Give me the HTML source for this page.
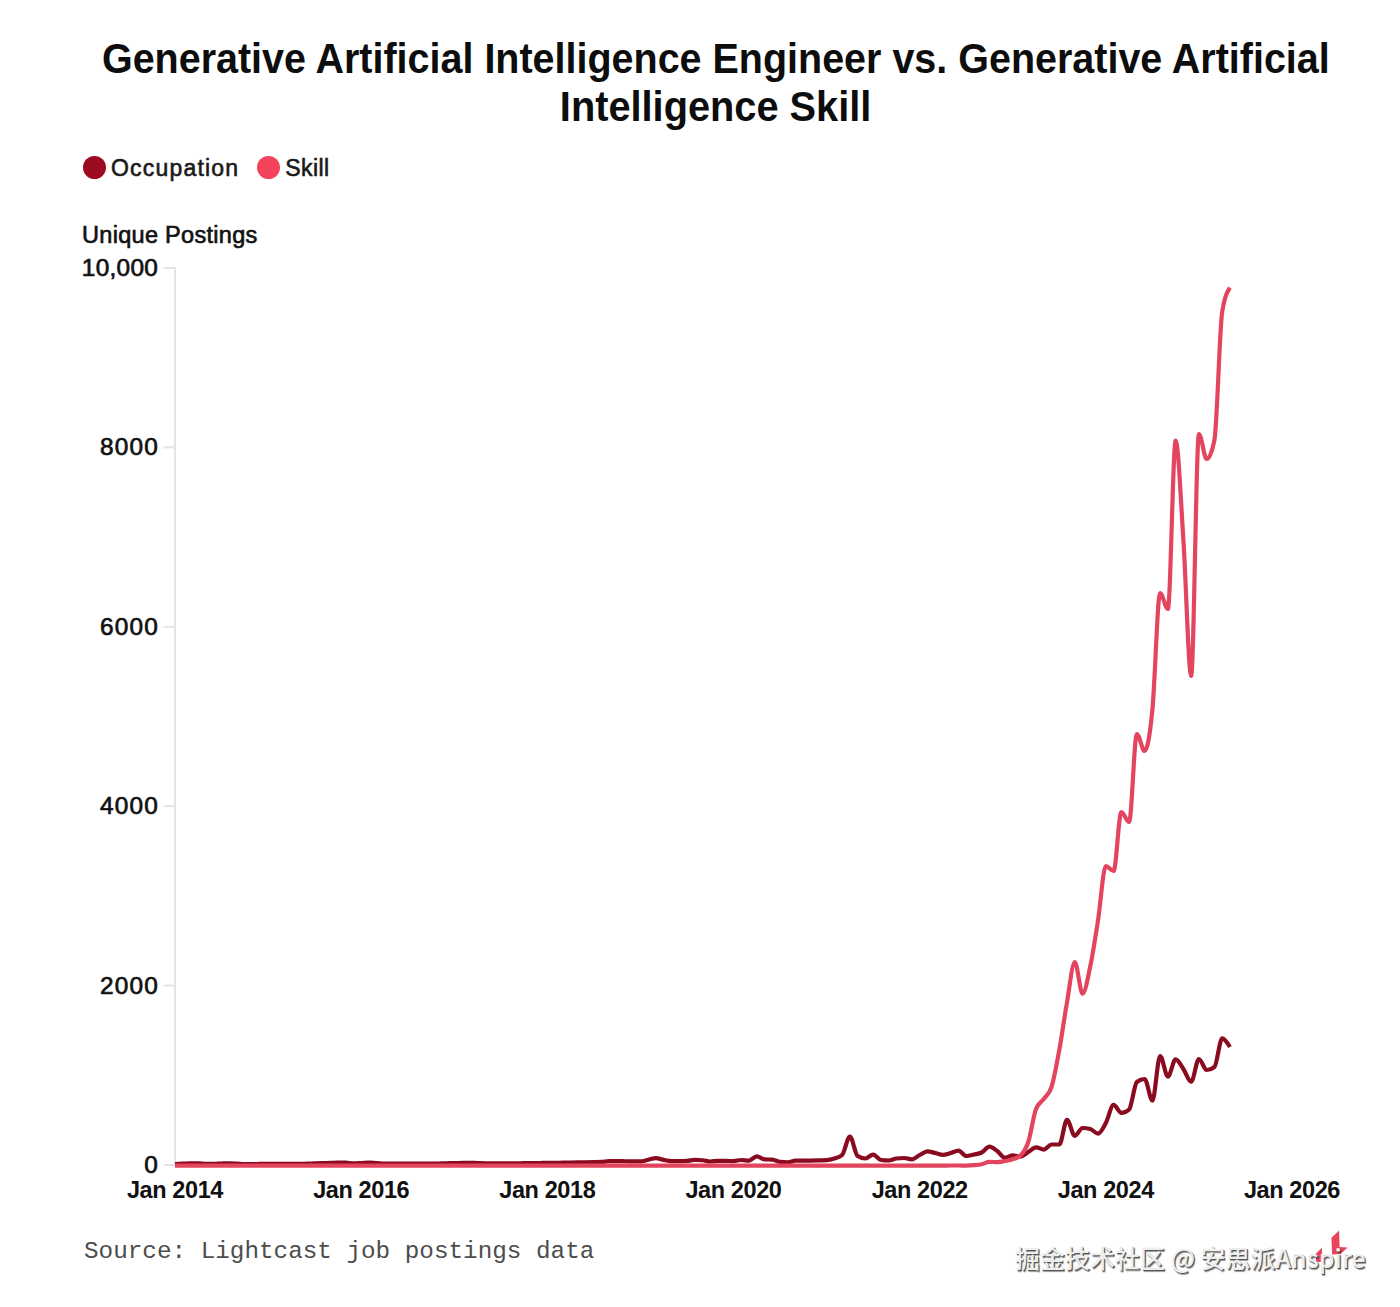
<!DOCTYPE html>
<html><head><meta charset="utf-8"><title>Generative AI Engineer vs. Generative AI Skill</title>
<style>
html,body{margin:0;padding:0;background:#fff;}
body{width:1400px;height:1307px;position:relative;overflow:hidden;font-family:"Liberation Sans",Arial,sans-serif;color:#111;}
h1{position:absolute;left:30px;width:1370px;top:33.5px;margin:0;text-align:center;font:bold 43px/48px "Liberation Sans",Arial,sans-serif;color:#0d0d0d;}
.l1,.l2{display:block;white-space:nowrap;}
.l1{transform:translateX(0.85px) scaleX(0.918);transform-origin:685px 0;}
.l2{transform:translateX(0.6px) scaleX(0.9245);transform-origin:685px 0;}
.leg{position:absolute;top:154px;height:26px;font:23px/26px "Liberation Sans",Arial,sans-serif;color:#1a1a1a;-webkit-text-stroke:0.6px #1a1a1a;letter-spacing:1.2px;white-space:nowrap;}
.leg span.t{position:relative;top:1px;}
.dot{position:absolute;top:1.5px;width:23px;height:23px;border-radius:50%;}
.ttl{position:absolute;left:82px;top:221.5px;font:23.5px/26px "Liberation Sans",Arial,sans-serif;color:#111;-webkit-text-stroke:0.65px #111;letter-spacing:0.3px;white-space:nowrap;}
.yl{position:absolute;font:24.4px/26px "Liberation Sans",Arial,sans-serif;color:#111;-webkit-text-stroke:0.7px #111;text-align:right;white-space:nowrap;}
.xl{position:absolute;top:1176.5px;width:120px;text-align:center;font:bold 23.5px/26px "Liberation Sans",Arial,sans-serif;color:#111;letter-spacing:-0.4px;}
.src{position:absolute;left:84px;top:1238px;font:24.3px/28px "Liberation Mono",monospace;color:#4d4d4d;white-space:nowrap;}
.wm{position:absolute;left:1015px;top:1241.8px;font:500 25px/30px "Noto Sans CJK SC",sans-serif;color:#eeeeee;text-shadow:1px 1px 0 #555,1.5px 1.5px 1px rgba(0,0,0,.4);white-space:nowrap;}
svg{position:absolute;left:0;top:0;}
</style></head><body>
<h1><span class="l1">Generative Artificial Intelligence Engineer vs. Generative Artificial</span> <span class="l2">Intelligence Skill</span></h1>
<div class="leg" style="left:82.5px"><span class="dot" style="left:0;background:#9b0a20"></span><span class="t" style="margin-left:28.5px">Occupation</span></div>
<div class="leg" style="left:256.8px"><span class="dot" style="left:0;background:#f4445b"></span><span class="t" style="margin-left:28.5px;letter-spacing:0.4px">Skill</span></div>
<div class="ttl">Unique Postings</div>
<div class="yl" style="top:1152.4px;letter-spacing:0px;right:1242.1px">0</div><div class="yl" style="top:972.8px;letter-spacing:1.2px;right:1240.9px">2000</div><div class="yl" style="top:793.3px;letter-spacing:1.2px;right:1240.9px">4000</div><div class="yl" style="top:613.7px;letter-spacing:1.2px;right:1240.9px">6000</div><div class="yl" style="top:434.2px;letter-spacing:1.2px;right:1240.9px">8000</div><div class="yl" style="top:254.6px;letter-spacing:0.3px;right:1241.8px">10,000</div>
<div class="xl" style="left:115.0px">Jan 2014</div><div class="xl" style="left:301.2px">Jan 2016</div><div class="xl" style="left:487.3px">Jan 2018</div><div class="xl" style="left:673.5px">Jan 2020</div><div class="xl" style="left:859.7px">Jan 2022</div><div class="xl" style="left:1045.8px">Jan 2024</div><div class="xl" style="left:1232.0px">Jan 2026</div>
<svg width="1400" height="1307" viewBox="0 0 1400 1307">
<g stroke="#e4e4e4" stroke-width="2" fill="none">
<line x1="175" x2="175" y1="267.5" y2="1166"/>
<line x1="163.5" x2="175" y1="1165.0" y2="1165.0"/><line x1="163.5" x2="175" y1="985.6" y2="985.6"/><line x1="163.5" x2="175" y1="806.2" y2="806.2"/><line x1="163.5" x2="175" y1="626.8" y2="626.8"/><line x1="163.5" x2="175" y1="447.4" y2="447.4"/><line x1="163.5" x2="175" y1="268.0" y2="268.0"/>
</g>
<path d="M175.00,1164.00C177.59,1163.90 180.17,1163.80 182.76,1163.70C185.34,1163.60 187.93,1163.44 190.51,1163.40C193.10,1163.36 195.69,1163.34 198.27,1163.34C200.86,1163.34 203.44,1163.74 206.03,1163.78C208.61,1163.81 211.20,1163.83 213.78,1163.83C216.37,1163.83 218.96,1163.57 221.54,1163.48C224.13,1163.39 226.71,1163.27 229.30,1163.27C231.88,1163.27 234.47,1163.51 237.06,1163.63C239.64,1163.75 242.23,1163.99 244.81,1163.99C247.40,1163.99 249.98,1163.99 252.57,1163.99C255.16,1163.98 257.74,1163.98 260.33,1163.97C262.91,1163.97 265.50,1163.96 268.08,1163.96C270.67,1163.95 273.25,1163.95 275.84,1163.94C278.43,1163.94 281.01,1163.93 283.60,1163.93C286.18,1163.93 288.77,1163.92 291.35,1163.92C293.94,1163.91 296.53,1163.91 299.11,1163.90C301.70,1163.89 304.28,1163.76 306.87,1163.68C309.45,1163.60 312.04,1163.51 314.62,1163.43C317.21,1163.35 319.80,1163.26 322.38,1163.18C324.97,1163.10 327.55,1163.01 330.14,1162.93C332.72,1162.85 335.31,1162.68 337.90,1162.68C340.48,1162.68 343.07,1162.68 345.65,1162.69C348.24,1162.69 350.82,1163.36 353.41,1163.36C356.00,1163.36 358.58,1163.14 361.17,1163.01C363.75,1162.88 366.34,1162.59 368.92,1162.59C371.51,1162.59 374.09,1162.95 376.68,1163.13C379.27,1163.30 381.85,1163.64 384.44,1163.66C387.02,1163.69 389.61,1163.70 392.19,1163.70C394.78,1163.70 397.37,1163.70 399.95,1163.70C402.54,1163.70 405.12,1163.70 407.71,1163.70C410.29,1163.70 412.88,1163.70 415.47,1163.70C418.05,1163.70 420.64,1163.70 423.22,1163.70C425.81,1163.70 428.39,1163.69 430.98,1163.67C433.56,1163.66 436.15,1163.54 438.74,1163.48C441.32,1163.41 443.91,1163.34 446.49,1163.28C449.08,1163.21 451.66,1163.14 454.25,1163.08C456.84,1163.01 459.42,1162.94 462.01,1162.88C464.59,1162.82 467.18,1162.73 469.76,1162.73C472.35,1162.73 474.94,1162.93 477.52,1163.02C480.11,1163.12 482.69,1163.25 485.28,1163.32C487.86,1163.39 490.45,1163.47 493.03,1163.47C495.62,1163.47 498.21,1163.43 500.79,1163.40C503.38,1163.38 505.96,1163.36 508.55,1163.34C511.13,1163.31 513.72,1163.29 516.31,1163.27C518.89,1163.25 521.48,1163.23 524.06,1163.20C526.65,1163.17 529.23,1163.13 531.82,1163.10C534.41,1163.07 536.99,1163.03 539.58,1163.00C542.16,1162.97 544.75,1162.93 547.33,1162.90C549.92,1162.87 552.50,1162.83 555.09,1162.80C557.68,1162.77 560.26,1162.74 562.85,1162.70C565.43,1162.66 568.02,1162.60 570.60,1162.56C573.19,1162.51 575.78,1162.46 578.36,1162.41C580.95,1162.36 583.53,1162.31 586.12,1162.26C588.70,1162.21 591.29,1162.18 593.88,1162.12C596.46,1162.05 599.05,1162.01 601.63,1161.86C604.22,1161.71 606.80,1161.30 609.39,1161.22C611.97,1161.13 614.56,1161.09 617.15,1161.09C619.73,1161.09 622.32,1161.18 624.90,1161.23C627.49,1161.28 630.07,1161.34 632.66,1161.37C635.25,1161.40 637.83,1161.41 640.42,1161.41C643.00,1161.41 645.59,1160.32 648.17,1159.77C650.76,1159.23 653.34,1158.14 655.93,1158.14C658.52,1158.14 661.10,1159.43 663.69,1159.92C666.27,1160.42 668.86,1161.10 671.44,1161.10C674.03,1161.10 676.62,1161.10 679.20,1161.10C681.79,1161.10 684.37,1161.04 686.96,1160.93C689.54,1160.82 692.13,1159.91 694.72,1159.91C697.30,1159.91 699.89,1160.02 702.47,1160.24C705.06,1160.45 707.64,1161.49 710.23,1161.49C712.81,1161.49 715.40,1160.86 717.99,1160.86C720.57,1160.86 723.16,1160.86 725.74,1160.87C728.33,1160.87 730.91,1161.10 733.50,1161.10C736.09,1161.10 738.67,1160.02 741.26,1160.02C743.84,1160.02 746.43,1160.59 749.01,1160.59C751.60,1160.59 754.19,1156.39 756.77,1156.39C759.36,1156.39 761.94,1159.13 764.53,1159.35C767.11,1159.58 769.70,1159.46 772.28,1159.69C774.87,1159.91 777.46,1161.57 780.04,1161.90C782.63,1162.24 785.21,1162.40 787.80,1162.40C790.38,1162.40 792.97,1160.70 795.56,1160.70C798.14,1160.70 800.73,1160.70 803.31,1160.70C805.90,1160.70 808.48,1160.66 811.07,1160.61C813.66,1160.57 816.24,1160.48 818.83,1160.40C821.41,1160.33 824.00,1160.33 826.58,1160.18C829.17,1160.03 831.75,1159.36 834.34,1158.50C836.93,1157.64 839.51,1157.33 842.10,1155.00C844.68,1152.67 847.27,1136.50 849.85,1136.50C852.44,1136.50 855.03,1154.33 857.61,1156.00C860.20,1157.67 862.78,1158.50 865.37,1158.50C867.95,1158.50 870.54,1154.60 873.12,1154.60C875.71,1154.60 878.30,1159.67 880.88,1160.00C883.47,1160.33 886.05,1160.50 888.64,1160.50C891.22,1160.50 893.81,1158.83 896.40,1158.50C898.98,1158.17 901.57,1158.00 904.15,1158.00C906.74,1158.00 909.32,1159.30 911.91,1159.30C914.50,1159.30 917.08,1156.32 919.67,1155.00C922.25,1153.68 924.84,1151.40 927.42,1151.40C930.01,1151.40 932.59,1152.42 935.18,1153.00C937.77,1153.58 940.35,1154.90 942.94,1154.90C945.52,1154.90 948.11,1153.72 950.69,1153.00C953.28,1152.28 955.87,1150.60 958.45,1150.60C961.04,1150.60 963.62,1156.00 966.21,1156.00C968.79,1156.00 971.38,1155.08 973.97,1154.50C976.55,1153.92 979.14,1153.80 981.72,1152.50C984.31,1151.20 986.89,1146.70 989.48,1146.70C992.06,1146.70 994.65,1149.17 997.24,1151.00C999.82,1152.83 1002.41,1157.70 1004.99,1157.70C1007.58,1157.70 1010.16,1155.40 1012.75,1155.40C1015.34,1155.40 1017.92,1156.50 1020.51,1156.50C1023.09,1156.50 1025.68,1153.53 1028.26,1152.00C1030.85,1150.47 1033.44,1147.30 1036.02,1147.30C1038.61,1147.30 1041.19,1149.60 1043.78,1149.60C1046.36,1149.60 1048.95,1144.50 1051.53,1144.50C1054.12,1144.50 1056.71,1144.50 1059.29,1144.50C1061.88,1144.50 1064.46,1119.80 1067.05,1119.80C1069.63,1119.80 1072.22,1135.90 1074.81,1135.90C1077.39,1135.90 1079.98,1128.00 1082.56,1128.00C1085.15,1128.00 1087.73,1128.33 1090.32,1129.00C1092.91,1129.67 1095.49,1133.60 1098.08,1133.60C1100.66,1133.60 1103.25,1127.78 1105.83,1123.00C1108.42,1118.22 1111.00,1104.90 1113.59,1104.90C1116.18,1104.90 1118.76,1112.90 1121.35,1112.90C1123.93,1112.90 1126.52,1111.77 1129.10,1109.50C1131.69,1107.23 1134.28,1084.00 1136.86,1082.00C1139.45,1080.00 1142.03,1079.00 1144.62,1079.00C1147.20,1079.00 1149.79,1100.60 1152.38,1100.60C1154.96,1100.60 1157.55,1056.00 1160.13,1056.00C1162.72,1056.00 1165.30,1076.60 1167.89,1076.60C1170.47,1076.60 1173.06,1059.40 1175.65,1059.40C1178.23,1059.40 1180.82,1065.28 1183.40,1069.00C1185.99,1072.72 1188.57,1081.70 1191.16,1081.70C1193.75,1081.70 1196.33,1059.00 1198.92,1059.00C1201.50,1059.00 1204.09,1070.00 1206.67,1070.00C1209.26,1070.00 1211.84,1069.00 1214.43,1067.00C1217.02,1065.00 1219.60,1038.40 1222.19,1038.40C1224.77,1038.40 1227.36,1042.70 1229.94,1047.00" fill="none" stroke="#8a0a20" stroke-width="4.2" stroke-linejoin="round" stroke-linecap="butt"/>
<path d="M175.00,1165.60C177.59,1165.60 180.17,1165.60 182.76,1165.60C185.34,1165.60 187.93,1165.60 190.51,1165.60C193.10,1165.60 195.69,1165.60 198.27,1165.60C200.86,1165.60 203.44,1165.60 206.03,1165.60C208.61,1165.60 211.20,1165.60 213.78,1165.60C216.37,1165.60 218.96,1165.60 221.54,1165.60C224.13,1165.60 226.71,1165.60 229.30,1165.60C231.88,1165.60 234.47,1165.60 237.06,1165.60C239.64,1165.60 242.23,1165.60 244.81,1165.60C247.40,1165.60 249.98,1165.60 252.57,1165.60C255.16,1165.60 257.74,1165.60 260.33,1165.60C262.91,1165.60 265.50,1165.60 268.08,1165.60C270.67,1165.60 273.25,1165.60 275.84,1165.60C278.43,1165.60 281.01,1165.60 283.60,1165.60C286.18,1165.60 288.77,1165.60 291.35,1165.60C293.94,1165.60 296.53,1165.60 299.11,1165.60C301.70,1165.60 304.28,1165.60 306.87,1165.60C309.45,1165.60 312.04,1165.60 314.62,1165.60C317.21,1165.60 319.80,1165.60 322.38,1165.60C324.97,1165.60 327.55,1165.60 330.14,1165.60C332.72,1165.60 335.31,1165.60 337.90,1165.60C340.48,1165.60 343.07,1165.60 345.65,1165.60C348.24,1165.60 350.82,1165.60 353.41,1165.60C356.00,1165.60 358.58,1165.60 361.17,1165.60C363.75,1165.60 366.34,1165.60 368.92,1165.60C371.51,1165.60 374.09,1165.60 376.68,1165.60C379.27,1165.60 381.85,1165.60 384.44,1165.60C387.02,1165.60 389.61,1165.60 392.19,1165.60C394.78,1165.60 397.37,1165.60 399.95,1165.60C402.54,1165.60 405.12,1165.60 407.71,1165.60C410.29,1165.60 412.88,1165.60 415.47,1165.60C418.05,1165.60 420.64,1165.60 423.22,1165.60C425.81,1165.60 428.39,1165.60 430.98,1165.60C433.56,1165.60 436.15,1165.60 438.74,1165.60C441.32,1165.60 443.91,1165.60 446.49,1165.60C449.08,1165.60 451.66,1165.60 454.25,1165.60C456.84,1165.60 459.42,1165.60 462.01,1165.60C464.59,1165.60 467.18,1165.60 469.76,1165.60C472.35,1165.60 474.94,1165.60 477.52,1165.60C480.11,1165.60 482.69,1165.60 485.28,1165.60C487.86,1165.60 490.45,1165.60 493.03,1165.60C495.62,1165.60 498.21,1165.60 500.79,1165.60C503.38,1165.60 505.96,1165.60 508.55,1165.60C511.13,1165.60 513.72,1165.60 516.31,1165.60C518.89,1165.60 521.48,1165.60 524.06,1165.60C526.65,1165.60 529.23,1165.60 531.82,1165.60C534.41,1165.60 536.99,1165.60 539.58,1165.60C542.16,1165.60 544.75,1165.60 547.33,1165.60C549.92,1165.60 552.50,1165.60 555.09,1165.60C557.68,1165.60 560.26,1165.60 562.85,1165.60C565.43,1165.60 568.02,1165.60 570.60,1165.60C573.19,1165.60 575.78,1165.60 578.36,1165.60C580.95,1165.60 583.53,1165.60 586.12,1165.60C588.70,1165.60 591.29,1165.60 593.88,1165.60C596.46,1165.60 599.05,1165.60 601.63,1165.60C604.22,1165.60 606.80,1165.60 609.39,1165.60C611.97,1165.60 614.56,1165.60 617.15,1165.60C619.73,1165.60 622.32,1165.60 624.90,1165.60C627.49,1165.60 630.07,1165.60 632.66,1165.60C635.25,1165.60 637.83,1165.60 640.42,1165.60C643.00,1165.60 645.59,1165.60 648.17,1165.60C650.76,1165.60 653.34,1165.60 655.93,1165.60C658.52,1165.60 661.10,1165.60 663.69,1165.60C666.27,1165.60 668.86,1165.60 671.44,1165.60C674.03,1165.60 676.62,1165.60 679.20,1165.60C681.79,1165.60 684.37,1165.60 686.96,1165.60C689.54,1165.60 692.13,1165.60 694.72,1165.60C697.30,1165.60 699.89,1165.60 702.47,1165.60C705.06,1165.60 707.64,1165.60 710.23,1165.60C712.81,1165.60 715.40,1165.60 717.99,1165.60C720.57,1165.60 723.16,1165.60 725.74,1165.60C728.33,1165.60 730.91,1165.60 733.50,1165.60C736.09,1165.60 738.67,1165.60 741.26,1165.60C743.84,1165.60 746.43,1165.60 749.01,1165.60C751.60,1165.60 754.19,1165.60 756.77,1165.60C759.36,1165.60 761.94,1165.60 764.53,1165.60C767.11,1165.60 769.70,1165.60 772.28,1165.60C774.87,1165.60 777.46,1165.60 780.04,1165.60C782.63,1165.60 785.21,1165.60 787.80,1165.60C790.38,1165.60 792.97,1165.60 795.56,1165.60C798.14,1165.60 800.73,1165.60 803.31,1165.60C805.90,1165.60 808.48,1165.60 811.07,1165.60C813.66,1165.60 816.24,1165.60 818.83,1165.60C821.41,1165.60 824.00,1165.60 826.58,1165.60C829.17,1165.60 831.75,1165.60 834.34,1165.60C836.93,1165.60 839.51,1165.60 842.10,1165.60C844.68,1165.60 847.27,1165.60 849.85,1165.60C852.44,1165.60 855.03,1165.60 857.61,1165.60C860.20,1165.60 862.78,1165.60 865.37,1165.60C867.95,1165.60 870.54,1165.60 873.12,1165.60C875.71,1165.60 878.30,1165.60 880.88,1165.60C883.47,1165.60 886.05,1165.60 888.64,1165.60C891.22,1165.60 893.81,1165.60 896.40,1165.60C898.98,1165.60 901.57,1165.60 904.15,1165.60C906.74,1165.60 909.32,1165.60 911.91,1165.60C914.50,1165.60 917.08,1165.60 919.67,1165.60C922.25,1165.60 924.84,1165.60 927.42,1165.60C930.01,1165.60 932.59,1165.60 935.18,1165.60C937.77,1165.60 940.35,1165.60 942.94,1165.60C945.52,1165.60 948.11,1165.50 950.69,1165.50C953.28,1165.50 955.87,1165.50 958.45,1165.50C961.04,1165.50 963.62,1165.60 966.21,1165.60C968.79,1165.60 971.38,1165.43 973.97,1165.20C976.55,1164.97 979.14,1164.77 981.72,1164.20C984.31,1163.63 986.89,1161.80 989.48,1161.80C992.06,1161.80 994.65,1162.20 997.24,1162.20C999.82,1162.20 1002.41,1161.48 1004.99,1161.00C1007.58,1160.52 1010.16,1160.22 1012.75,1159.30C1015.34,1158.38 1017.92,1158.03 1020.51,1155.50C1023.09,1152.97 1025.68,1149.75 1028.26,1142.00C1030.85,1134.25 1033.44,1115.67 1036.02,1109.00C1038.61,1102.33 1041.19,1102.67 1043.78,1099.00C1046.36,1095.33 1048.95,1095.00 1051.53,1087.00C1054.12,1079.00 1056.71,1064.17 1059.29,1050.00C1061.88,1035.83 1064.46,1016.67 1067.05,1002.00C1069.63,987.33 1072.22,962.00 1074.81,962.00C1077.39,962.00 1079.98,993.70 1082.56,993.70C1085.15,993.70 1087.73,978.28 1090.32,966.00C1092.91,953.72 1095.49,936.67 1098.08,920.00C1100.66,903.33 1103.25,866.00 1105.83,866.00C1108.42,866.00 1111.00,871.00 1113.59,871.00C1116.18,871.00 1118.76,812.00 1121.35,812.00C1123.93,812.00 1126.52,822.00 1129.10,822.00C1131.69,822.00 1134.28,734.00 1136.86,734.00C1139.45,734.00 1142.03,751.00 1144.62,751.00C1147.20,751.00 1149.79,736.33 1152.38,710.00C1154.96,683.67 1157.55,593.00 1160.13,593.00C1162.72,593.00 1165.30,609.00 1167.89,609.00C1170.47,609.00 1173.06,440.60 1175.65,440.60C1178.23,440.60 1180.82,500.77 1183.40,540.00C1185.99,579.23 1188.57,676.00 1191.16,676.00C1193.75,676.00 1196.33,434.00 1198.92,434.00C1201.50,434.00 1204.09,459.00 1206.67,459.00C1209.26,459.00 1211.84,452.67 1214.43,440.00C1217.02,427.33 1219.60,328.27 1222.19,312.00C1224.77,295.73 1227.36,291.67 1229.94,287.60" fill="none" stroke="#e3445e" stroke-width="4.2" stroke-linejoin="round" stroke-linecap="butt"/>
<g fill="#e8455b">
<polygon points="1339.1,1230.6 1331.4,1237.7 1332.1,1254.5 1340.5,1254 1347.7,1247.4 1339.6,1247"/>
<polygon points="1322,1247.7 1316,1253.4 1316,1262 1322,1262"/>
</g>
</svg>
<div class="src">Source: Lightcast job postings data</div>
<div class="wm">掘金技术社区 @ 安思派Anspire</div>
</body></html>
